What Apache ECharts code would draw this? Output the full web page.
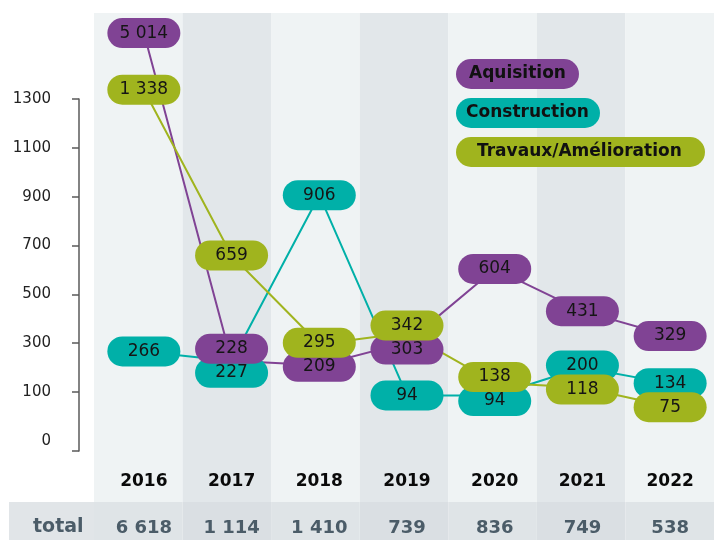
<!DOCTYPE html>
<html>
<head>
<meta charset="utf-8">
<style>
  html, body { margin: 0; padding: 0; background: #fff; }
  #chart { width: 714px; height: 540px; }
</style>
<script src="https://cdn.jsdelivr.net/npm/echarts@6/dist/echarts.min.js"></script>
</head>
<body>
<div id="chart"></div>
<script>
// données
const years = ["2016", "2017", "2018", "2019", "2020", "2021", "2022"];
const acquisition = [5014, 228, 209, 303, 604, 431, 329];
const construction = [266, 227, 906, 94, 94, 200, 134];
const travaux = [1338, 659, 295, 342, 138, 118, 75];
const totals = [6618, 1114, 1410, 739, 836, 749, 538];
const yTicks = [0, 100, 300, 500, 700, 900, 1100, 1300];

const PURPLE = "#804394";
const TEAL = "#00b0a8";
const OLIVE = "#a0b41e";

// axe cassé : 0-100 étiré sur la même hauteur que 100-300, valeurs hors échelle plafonnées
const AXIS_ZERO = -142;
const AXIS_CAP = 1570;
function toAxis(v) {
  return v < 100 ? AXIS_ZERO + v * (100 - AXIS_ZERO) / 100 : Math.min(v, AXIS_CAP);
}
function fmt(v) {
  return String(v).replace(/\B(?=(\d{3})+(?!\d))/g, " ");
}

let chart = echarts.init(document.getElementById("chart"));

function lineSeries(name, color, values) {
  return {
    name: name,
    type: "line",
    xAxisIndex: 0,
    yAxisIndex: 0,
    data: values.map(toAxis),
    clip: false,
    symbol: "circle",
    symbolSize: 2,
    itemStyle: { color: color },
    lineStyle: { color: color, width: 2 },
    emphasis: { disabled: true },
    label: {
      show: true,
      position: "inside",
      formatter: p => fmt(values[p.dataIndex]),
      backgroundColor: color,
      borderRadius: 15,
      width: 73,
      height: 30,
      lineHeight: 30,
      align: "center",
      verticalAlign: "middle",
      color: "#151515",
      fontSize: 17,
      fontFamily: "DejaVu Sans"
    }
  };
}

// ordre de dessin : teal, violet, vert
const seriesValues = [construction, acquisition, travaux];
const seriesList = [
  lineSeries("Construction", TEAL, construction),
  lineSeries("Aquisition", PURPLE, acquisition),
  lineSeries("Travaux/Amélioration", OLIVE, travaux)
];

const hiddenAxis = { axisLine: { show: false }, axisTick: { show: false }, axisLabel: { show: false }, splitLine: { show: false } };

var option = {
  animation: false,
  grid: [
    { left: 100, right: -11, top: 99, bottom: 89 },
    { left: 94, right: -13, top: 13, bottom: 38 },
    { left: 94, right: -13, top: 502, bottom: 0 }
  ],
  legend: {
    orient: "vertical",
    left: 446,
    top: 54,
    itemGap: 9,
    itemWidth: 0,
    itemHeight: 30,
    icon: "rect",
    selectedMode: false,
    textStyle: {
      fontFamily: "DejaVu Sans",
      fontWeight: "bold",
      fontSize: 17,
      color: "#111",
      lineHeight: 18,
      height: 18,
      borderRadius: 15
    },
    data: [
      { name: "Aquisition", textStyle: { backgroundColor: PURPLE, width: 110, padding: [6, 0, 6, 13] } },
      { name: "Construction", textStyle: { backgroundColor: TEAL, width: 134, padding: [6, 0, 6, 10] } },
      { name: "Travaux/Amélioration", textStyle: { backgroundColor: OLIVE, width: 228, padding: [6, 0, 6, 21] } }
    ]
  },
  xAxis: [
    {
      gridIndex: 0,
      type: "category",
      data: years,
      position: "bottom",
      axisLine: { show: false },
      axisTick: { show: false },
      splitLine: { show: false },
      axisLabel: { margin: 22, fontFamily: "DejaVu Sans", fontWeight: "bold", fontSize: 17, color: "#0a0a0a" }
    },
    {
      gridIndex: 0,
      type: "category",
      data: years,
      position: "bottom",
      axisLine: { show: false },
      axisTick: { show: false },
      splitLine: { show: false },
      axisLabel: {
        margin: 68,
        formatter: (v, i) => fmt(totals[i]),
        fontFamily: "DejaVu Sans",
        fontWeight: "bold",
        fontSize: 18,
        color: "#4b5c68"
      }
    },
    Object.assign({
      gridIndex: 1,
      type: "category",
      data: years,
      splitArea: { show: true, areaStyle: { color: ["#eff3f4", "#e2e7ea"] } }
    }, hiddenAxis),
    Object.assign({
      gridIndex: 2,
      type: "category",
      data: years,
      splitArea: { show: true, areaStyle: { color: ["#dfe4e7", "#dadfe3"] } }
    }, hiddenAxis)
  ],
  yAxis: [
    {
      gridIndex: 0,
      type: "value",
      min: AXIS_ZERO,
      max: 1300,
      offset: 21,
      splitLine: { show: false },
      axisLine: { show: true, lineStyle: { color: "#5a5a5a", width: 1.5 } },
      axisTick: { show: true, length: 7, lineStyle: { color: "#5a5a5a", width: 1.5 }, customValues: yTicks.map(toAxis) },
      axisLabel: {
        // le « 0 » est posé un peu au-dessus de sa graduation, comme sur l'original
        customValues: yTicks.map(v => (v === 0 ? -100 : toAxis(v))),
        formatter: v => (v < 100 ? "0" : String(v)),
        margin: 28,
        fontFamily: "DejaVu Sans",
        fontSize: 15,
        color: "#222"
      }
    },
    Object.assign({ gridIndex: 1, type: "value" }, hiddenAxis),
    Object.assign({ gridIndex: 2, type: "value" }, hiddenAxis)
  ],
  graphic: [
    { type: "rect", left: 9, top: 502, shape: { width: 85, height: 38 }, style: { fill: "#e1e5e8" }, z: -1 },
    {
      type: "text",
      left: 33,
      top: 518,
      style: { text: "total", fontFamily: "DejaVu Sans", fontWeight: "bold", fontSize: 19, fill: "#4b5c68" },
      z: 10
    }
  ],
  series: seriesList
};

chart.setOption(option);

// décale les étiquettes qui se chevauchent dans une même colonne
const GAP = 24;
const offsets = seriesValues.map(() => years.map(() => 0));
years.forEach((_, i) => {
  const pts = seriesValues.map((vals, s) => ({
    s: s,
    v: vals[i],
    y: chart.convertToPixel({ gridIndex: 0 }, [i, toAxis(vals[i])])[1]
  }));
  pts.sort((a, b) => a.y - b.y || b.v - a.v);
  let clusters = pts.map(p => ({ items: [p], mean: p.y }));
  let merged = true;
  while (merged) {
    merged = false;
    for (let j = 1; j < clusters.length; j++) {
      const a = clusters[j - 1], b = clusters[j];
      const aBottom = a.mean + (a.items.length - 1) * GAP / 2;
      const bTop = b.mean - (b.items.length - 1) * GAP / 2;
      if (bTop - aBottom < GAP) {
        const items = a.items.concat(b.items);
        const mean = items.reduce((t, p) => t + p.y, 0) / items.length;
        clusters.splice(j - 1, 2, { items: items, mean: mean });
        merged = true;
        break;
      }
    }
  }
  clusters.forEach(c => {
    c.items.forEach((p, k) => {
      const ny = c.mean - (c.items.length - 1) * GAP / 2 + k * GAP;
      offsets[p.s][i] = ny - p.y;
    });
  });
});

chart.setOption({
  series: seriesList.map((s, k) => ({
    labelLayout: p => ({ dy: offsets[k][p.dataIndex] })
  }))
});

window.onresize = chart.resize;
</script>
</body>
</html>
